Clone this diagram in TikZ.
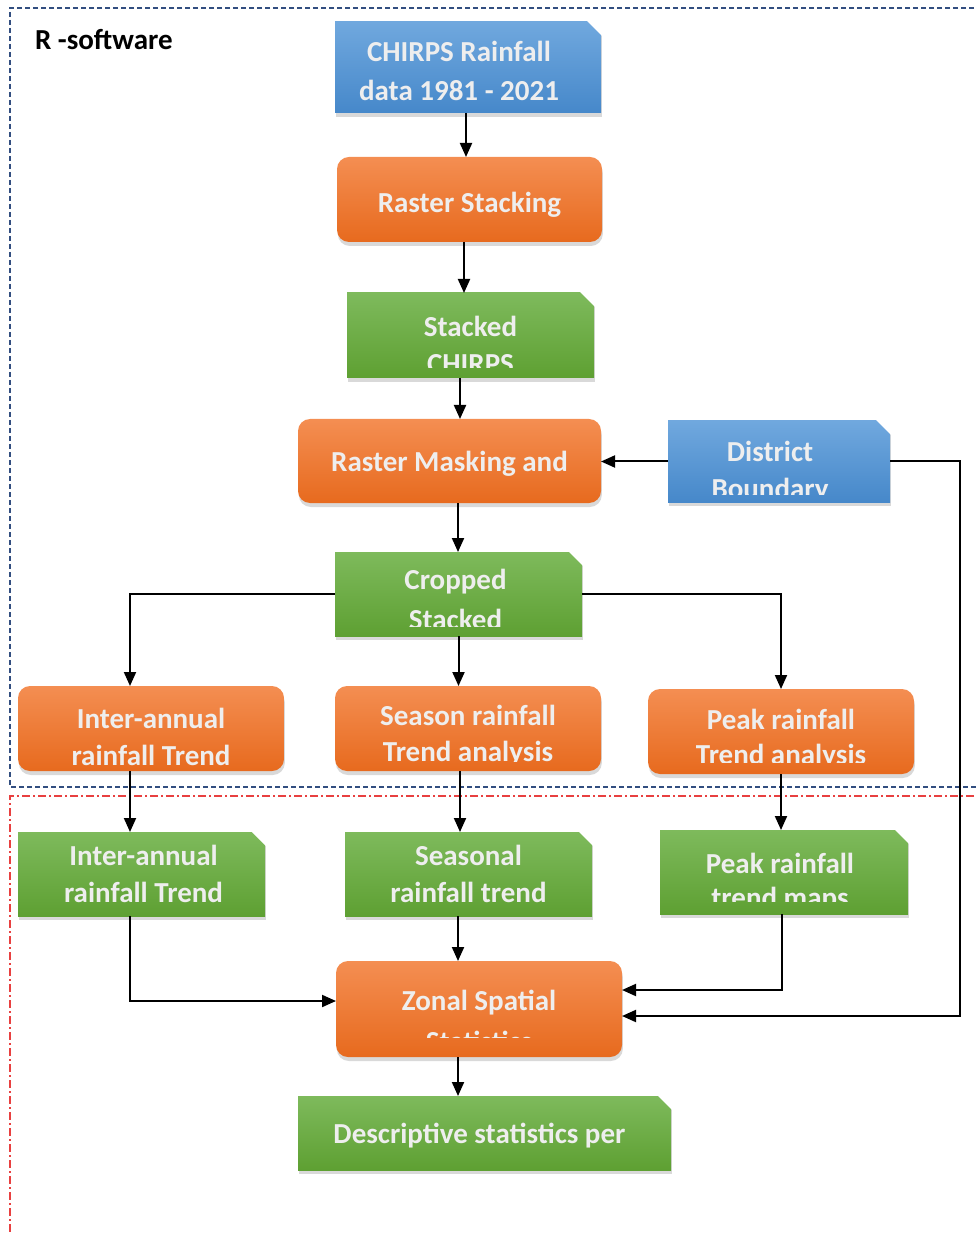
\documentclass[tikz,border=0pt]{standalone}
\usepackage{fontspec}
\setmainfont{Carlito}
\usetikzlibrary{arrows.meta,shadows}

\definecolor{bluetop}{RGB}{112,168,222}
\definecolor{bluebot}{RGB}{70,136,202}
\definecolor{orangetop}{RGB}{244,142,82}
\definecolor{orangebot}{RGB}{231,106,30}
\definecolor{greentop}{RGB}{126,186,92}
\definecolor{greenbot}{RGB}{94,160,50}
\definecolor{boxtext}{RGB}{238,238,238}
\definecolor{framenavy}{RGB}{50,78,128}
\definecolor{framered}{RGB}{232,64,64}

\tikzset{
  txtshift/.initial=0pt,
  lbl/.style={shape=rectangle,inner sep=0pt,minimum width=0pt,minimum height=0pt,
    text=boxtext,font=\fontsize{14.5}{17}\selectfont\bfseries},
  % first line offset, first line, second line offset, second line, bottom margin
  txt/.style n args={5}{path picture={
      \clip ([yshift=#5]path picture bounding box.south west)
        rectangle (path picture bounding box.north east);
      \node[lbl] at ([xshift=\pgfkeysvalueof{/tikz/txtshift},yshift=-#1]path picture bounding box.north) {#2};
      \node[lbl] at ([xshift=\pgfkeysvalueof{/tikz/txtshift},yshift=-#3]path picture bounding box.north) {#4};}},
  base/.style={rectangle,inner sep=0pt,outer sep=0pt,
    drop shadow={shadow xshift=0.4pt,shadow yshift=-2pt,opacity=.3}},
  process/.style={base,rounded corners=6pt,top color=orangetop,bottom color=orangebot},
  input/.style={base,txtshift=-4.5pt,top color=bluetop,bottom color=bluebot},
  output/.style={base,top color=greentop,bottom color=greenbot},
  arr/.style={line width=1pt,-{Triangle[width=6pt,length=7pt]}},
}

\begin{document}
\begin{tikzpicture}[x=0.5pt,y=-0.5pt]
  \useasboundingbox (0,0) rectangle (977,1234);

  % R part and mapping part
  \draw[framenavy,line width=0.6pt,dash pattern=on 2.5pt off 1.5pt]
    (990,8) -- (10,8) -- (10,787) -- (990,787);
  \draw[framered,line width=0.6pt,dash pattern=on 4pt off 1.5pt on 1pt off 1.5pt]
    (990,796) -- (10,796) -- (10,1240);
  \node[anchor=west,font=\fontsize{14.5}{17}\selectfont\bfseries] (rsoft) at (28,40) {R -software};

  \node[input,minimum width=133pt,minimum height=45.5pt,
    txt={14.5pt}{CHIRPS Rainfall}{34pt}{data 1981 - 2021}{4pt}] (chirps) at (468,67.5) {};
  \node[process,minimum width=132.5pt,minimum height=42.5pt,
    txt={24pt}{Raster Stacking}{0pt}{}{4pt}] (stack) at (469.5,199.5) {};
  \node[output,minimum width=123.5pt,minimum height=42.5pt,
    txt={16.5pt}{Stacked}{35.5pt}{CHIRPS}{5pt}] (stacked) at (470.5,335.5) {};
  \node[process,minimum width=151.5pt,minimum height=42pt,
    txt={22.5pt}{Raster Masking and}{0pt}{}{4pt}] (mask) at (449.5,461) {};
  \node[input,minimum width=111pt,minimum height=40.5pt,
    txt={15pt}{District}{35pt}{Boundary}{4pt}] (district) at (779,461.5) {};
  \node[output,minimum width=123.5pt,minimum height=42pt,txtshift=-1.5pt,
    txt={15pt}{Cropped}{33.5pt}{Stacked}{5pt}] (cropped) at (458.5,594) {};

  \node[process,minimum width=133pt,minimum height=42.5pt,
    txt={16pt}{Inter-annual}{34.5pt}{rainfall Trend}{3pt}] (interT) at (151,728.5) {};
  \node[process,minimum width=133pt,minimum height=42.5pt,
    txt={14.5pt}{Season rainfall}{34pt}{Trend analysis}{5pt}] (seasonT) at (468,728.5) {};
  \node[process,minimum width=133pt,minimum height=42.5pt,
    txt={15pt}{Peak rainfall}{34pt}{Trend analysis}{6pt}] (peakT) at (781,731.5) {};

  \node[output,minimum width=123.5pt,minimum height=42pt,txtshift=1pt,
    txt={11.5pt}{Inter-annual}{30pt}{rainfall Trend}{4pt}] (interM) at (141.5,874) {};
  \node[output,minimum width=123.5pt,minimum height=42pt,
    txt={11.5pt}{Seasonal}{30pt}{rainfall trend}{4pt}] (seasonM) at (468.5,874) {};
  \node[output,minimum width=124pt,minimum height=42pt,txtshift=-2pt,
    txt={16.5pt}{Peak rainfall}{35pt}{trend maps}{6.5pt}] (peakM) at (784,872) {};

  \node[process,minimum width=143pt,minimum height=48pt,
    txt={21pt}{Zonal Spatial}{40pt}{Statistics}{10pt}] (zonal) at (479,1009) {};
  \node[output,minimum width=186.5pt,minimum height=37pt,txtshift=-2.5pt,
    txt={20pt}{Descriptive statistics per}{0pt}{}{4pt}] (desc) at (484.5,1133) {};

  % snipped corners of the data boxes
  \foreach \n in {chirps,stacked,district,cropped,interM,seasonM,peakM,desc}
    \fill[white] ([xshift=-7pt,yshift=0.5pt]\n.north east)
      -- ([xshift=1.5pt,yshift=0.5pt]\n.north east)
      -- ([xshift=1.5pt,yshift=-8pt]\n.north east) -- cycle;

  % connectors
  \draw[arr] ([xshift=-1pt]chirps.south) -- ([xshift=-1pt]chirps.south |- stack.north);
  \draw[arr] ([xshift=-2.75pt]stack.south) -- ([xshift=-2.75pt]stack.south |- stacked.north);
  \draw[arr] ([xshift=-5.25pt]stacked.south) -- ([xshift=-5.25pt]stacked.south |- mask.north);
  \draw[arr] (district.west) -- (district.west -| mask.east);
  \draw[arr] ([xshift=4.25pt]mask.south) -- ([xshift=4.25pt]mask.south |- cropped.north);
  \draw[arr] (cropped.west) -| ([xshift=-10.5pt]interT.north);
  \draw[arr] (cropped.south) -- (cropped.south |- seasonT.north);
  \draw[arr] (cropped.east) -| (peakT.north);
  \draw[arr] ([xshift=-10.5pt]interT.south) -- ([xshift=-10.5pt]interT.south |- interM.north);
  \draw[arr] ([xshift=-4pt]seasonT.south) -- ([xshift=-4pt]seasonT.south |- seasonM.north);
  \draw[arr] (peakT.south) -- (peakT.south |- peakM.north);
  \draw[arr] ([xshift=-5.75pt]interM.south) |- ([yshift=4pt]zonal.west);
  \draw[arr] ([xshift=-5.25pt]seasonM.south) -- ([xshift=-5.25pt]seasonM.south |- zonal.north);
  \draw[arr] ([xshift=-1pt]peakM.south) |- ([yshift=9.5pt]zonal.east);
  \draw[arr] (district.east) -- ++(35pt,0) |- ([yshift=-3.5pt]zonal.east);
  \draw[arr] ([xshift=-10.5pt]zonal.south) -- ([xshift=-10.5pt]zonal.south |- desc.north);
\end{tikzpicture}
\end{document}
